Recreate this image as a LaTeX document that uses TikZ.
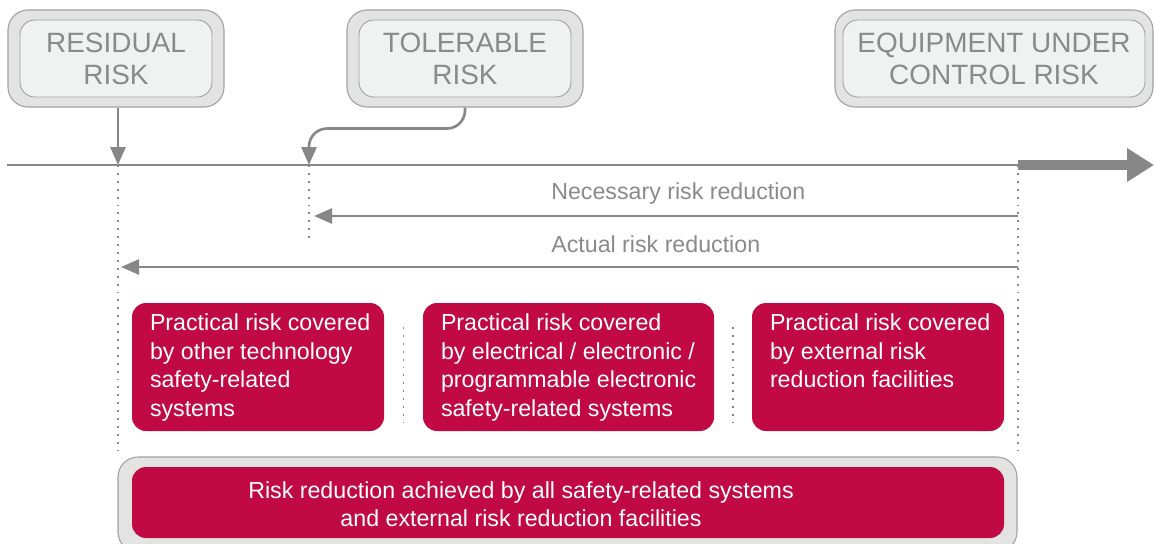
\documentclass[tikz,border=0pt]{standalone}
\usepackage{fontspec}
\setmainfont{Liberation Sans}
\definecolor{riskgray}{RGB}{138,138,138}
\definecolor{riskline}{RGB}{135,135,135}
\definecolor{boxedge}{RGB}{160,160,160}
\definecolor{boxfill}{RGB}{227,227,227}
\definecolor{boxinner}{RGB}{240,241,241}
\definecolor{riskred}{RGB}{193,10,69}
\usetikzlibrary{arrows.meta,positioning,calc}

\begin{document}
\begin{tikzpicture}[font=\fontsize{13.2}{16.4}\selectfont]
    \tikzset{outerbox/.style={rectangle, rounded corners=0.4cm, minimum height=1.94cm,
      draw=boxedge, fill=boxfill, line width=0.6pt}}
    \tikzset{innerbox/.style={rectangle, rounded corners=0.3cm, minimum height=1.54cm,
      draw=boxedge, fill=boxinner, line width=0.5pt, text=riskgray, align=center,
      font=\fontsize{15.9}{18.1}\selectfont}}
    \tikzset{redbox/.style={rectangle, rounded corners=0.28cm, minimum height=2.56cm, fill=riskred}}
    \tikzset{redtext/.style={text=white, align=left, anchor=north west, inner sep=0pt}}
    \tikzset{guide/.style={riskline, line width=1.1pt, dash pattern=on 1.1pt off 3.4pt}}
    \tikzset{reduction/.style={-{Triangle[length=0.36cm,width=0.3cm]}, riskline, line width=1.5pt}}

    \clip (0,0) rectangle (23.08,-10.88);

    % Top row: risk levels
    \node[outerbox, minimum width=4.32cm] (reso) at (2.32,-1.17) {};
    \node[innerbox, minimum width=3.84cm] (res) at (2.32,-1.17) {RESIDUAL\\RISK};
    \node[outerbox, minimum width=4.72cm] (tolo) at (9.30,-1.17) {};
    \node[innerbox, minimum width=4.24cm] (tol) at (9.30,-1.17) {TOLERABLE\\RISK};
    \node[outerbox, minimum width=6.36cm] (euco) at (19.88,-1.17) {};
    \node[innerbox, minimum width=6.04cm] (euc) at (19.88,-1.17) {EQUIPMENT UNDER\\CONTROL RISK};

    % Risk axis
    \coordinate (t0)   at (0.14,-3.3);
    \coordinate (tres) at (2.36,-3.3);
    \coordinate (ttol) at (6.18,-3.3);
    \coordinate (teuc) at (20.36,-3.3);
    \coordinate (tend) at (23.08,-3.3);
    \draw[riskline, line width=1.5pt] (t0) -- (teuc);
    \draw[riskline, line width=0.2cm, -{Triangle[length=0.54cm,width=0.64cm]}] (teuc) -- (tend);

    % Arrows levels -> axis
    \draw[reduction] (reso.south -| tres) -- (tres);
    \draw[reduction, rounded corners=0.36cm] (tolo.south) -- ++(0,-0.42) -| (ttol);

    % Guides
    \draw[guide] (tres) -- ++(0,-5.7);
    \draw[guide] (ttol) -- ++(0,-1.5);
    \draw[guide] (teuc) -- ++(0,-5.7);

    % Risk reductions
    \node[text=riskgray, anchor=west, inner sep=0pt] (nec) at (11.02,-3.86) {Necessary risk reduction};
    \coordinate (necs) at (20.36,-4.32);
    \coordinate (nece) at (6.28,-4.32);
    \draw[reduction] (necs) -- (nece);
    \node[text=riskgray, anchor=west, inner sep=0pt] (act) at (11.02,-4.88) {Actual risk reduction};
    \coordinate (acts) at (20.36,-5.34);
    \coordinate (acte) at (2.42,-5.34);
    \draw[reduction] (acts) -- (acte);

    % Middle row: practical risk covered
    \node[redbox, minimum width=5.04cm] (p1) at (5.16,-7.34) {};
    \node[redbox, minimum width=5.82cm] (p2) at (11.37,-7.34) {};
    \node[redbox, minimum width=5.04cm] (p3) at (17.56,-7.34) {};
    \node[redtext] at ([xshift=0.36cm, yshift=-0.21cm]p1.north west)
      {Practical risk covered\\by other technology\\safety-related\\systems};
    \node[redtext] at ([xshift=0.36cm, yshift=-0.21cm]p2.north west)
      {Practical risk covered\\by electrical / electronic /\\programmable electronic\\safety-related systems};
    \node[redtext] at ([xshift=0.36cm, yshift=-0.21cm]p3.north west)
      {Practical risk covered\\by external risk\\reduction facilities};
    \draw[guide] ($(p1.east)!0.5!(p2.west)$) ++(0,0.8) -- ++(0,-1.9);
    \draw[guide] ($(p2.east)!0.5!(p3.west)$) ++(0,0.8) -- ++(0,-1.9);

    % Bottom: all safety-related systems
    \node[rectangle, rounded corners=0.4cm, minimum width=17.98cm, minimum height=1.9cm,
          draw=boxedge, fill=boxfill, line width=0.6pt] (allo) at (11.35,-10.09) {};
    \node[redbox, minimum width=17.44cm, minimum height=1.42cm] (all) at (11.36,-10.05) {};
    \node[text=white, align=center, font=\fontsize{13.2}{15.9}\selectfont] at (10.42,-10.08)
      {Risk reduction achieved by all safety-related systems\\and external risk reduction facilities};
\end{tikzpicture}
\end{document}
